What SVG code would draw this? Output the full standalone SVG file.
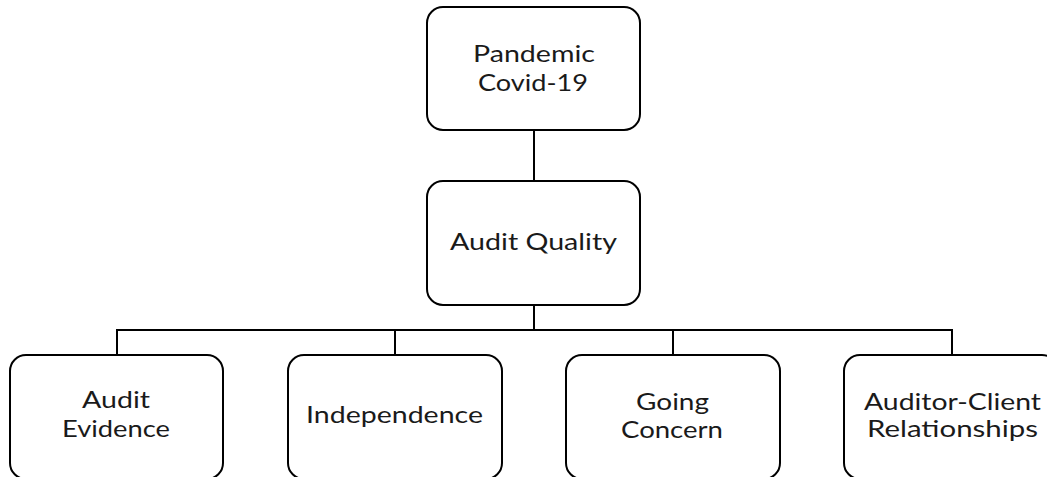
<svg xmlns="http://www.w3.org/2000/svg" width="1047" height="477" viewBox="0 0 1047 477">
<style>
.box{fill:#fff;stroke:#000;stroke-width:2}
.lbl{font-family:Lato,"Open Sans",sans-serif;font-size:23.5px;fill:#1a1a1a;text-anchor:middle}
.con{fill:none;stroke:#000;stroke-width:2}
</style>
<rect width="1047" height="477" fill="#fff"/>
<g id="connectors">
<line class="con" x1="534" y1="130" x2="534" y2="181"/>
<line class="con" x1="534" y1="305" x2="534" y2="330"/>
<polyline class="con" points="117,355 117,330 952,330 952,355"/>
<line class="con" x1="395" y1="330" x2="395" y2="355"/>
<line class="con" x1="673" y1="330" x2="673" y2="355"/>
</g>
<g id="node-pandemic">
<rect class="box" x="427" y="7" width="213" height="123" rx="16"/>
<text class="lbl" x="534" y="62" textLength="122" lengthAdjust="spacingAndGlyphs">Pandemic</text>
<text class="lbl" x="533" y="90.5" textLength="110" lengthAdjust="spacingAndGlyphs">Covid-19</text>
</g>
<g id="node-audit-quality">
<rect class="box" x="427" y="181" width="213" height="124" rx="16"/>
<text class="lbl" x="533.5" y="250" textLength="167" lengthAdjust="spacingAndGlyphs">Audit Quality</text>
</g>
<g id="node-audit-evidence">
<rect class="box" x="10" y="355" width="213" height="124" rx="16"/>
<text class="lbl" x="116" y="408" textLength="68" lengthAdjust="spacingAndGlyphs">Audit</text>
<text class="lbl" x="116" y="437" textLength="108" lengthAdjust="spacingAndGlyphs">Evidence</text>
</g>
<g id="node-independence">
<rect class="box" x="288" y="355" width="214" height="124" rx="16"/>
<text class="lbl" x="394.5" y="423" textLength="177" lengthAdjust="spacingAndGlyphs">Independence</text>
</g>
<g id="node-going-concern">
<rect class="box" x="566" y="355" width="214" height="124" rx="16"/>
<text class="lbl" x="672.5" y="410" textLength="73" lengthAdjust="spacingAndGlyphs">Going</text>
<text class="lbl" x="672" y="438" textLength="102" lengthAdjust="spacingAndGlyphs">Concern</text>
</g>
<g id="node-auditor-client">
<rect class="box" x="844" y="355" width="214" height="124" rx="16"/>
<text class="lbl" x="952.5" y="410" textLength="177" lengthAdjust="spacingAndGlyphs">Auditor-Client</text>
<text class="lbl" x="952.5" y="437" textLength="171" lengthAdjust="spacingAndGlyphs">Relationships</text>
</g>
</svg>
